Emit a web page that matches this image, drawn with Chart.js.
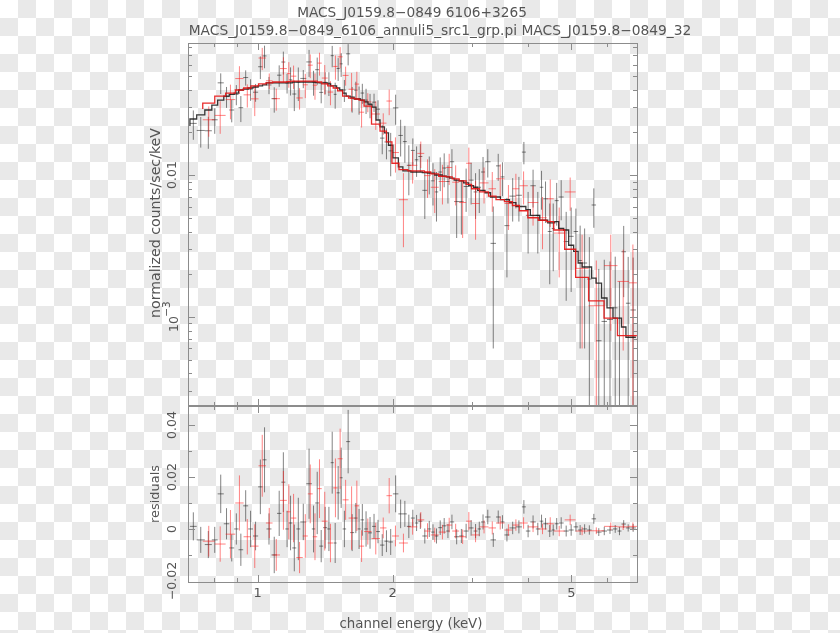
<!DOCTYPE html>
<html>
<head>
<meta charset="utf-8">
<title>MACS_J0159.8-0849 spectrum</title>
<script src="https://cdn.jsdelivr.net/npm/chart.js@4.4.1/dist/chart.umd.min.js"></script>
<style>
  html, body { margin: 0; padding: 0; background: #fff; }
  body { width: 840px; height: 633px; overflow: hidden; }
  canvas { display: block; }
</style>
</head>
<body>
<canvas id="spec" width="840" height="633"></canvas>
<script>
'use strict';

// plot texts
var plotTitle = 'MACS_J0159.8\u22120849 6106+3265';
var plotSubtitle = 'MACS_J0159.8\u22120849_6106_annuli5_src1_grp.pi MACS_J0159.8\u22120849_32';
var xTitle = 'channel energy (keV)';
var yTitleTop = 'normalized counts/sec/keV';
var yTitleBottom = 'residuals';

// axis ranges and tick labels
var energyRange = [0.707, 7.0];
var fluxRange = [2.36e-4, 0.0851];
var residRange = [-0.0204, 0.0473];
var energyMajor = [1, 2, 5];
var energyMinor = [0.8, 0.9, 3, 4, 6, 7];
var fluxMajor = [0.01, 0.001];
var residMajor = [-0.02, 0, 0.02, 0.04];
var residMinor = [-0.01, 0.01, 0.03];

// first data group (black): bin edges in keV, model per bin, residual per bin, 1 sigma error
var blackEdges = [0.707, 0.732, 0.763, 0.791, 0.815, 0.841, 0.865, 0.887, 0.907, 0.929,
  0.953, 0.977, 1.003, 1.026, 1.047, 1.074, 1.105, 1.130, 1.153, 1.174,
  1.195, 1.220, 1.245, 1.284, 1.321, 1.344, 1.372, 1.400, 1.429, 1.455,
  1.478, 1.500, 1.524, 1.547, 1.575, 1.608, 1.641, 1.670, 1.696, 1.727,
  1.762, 1.799, 1.836, 1.874, 1.917, 1.957, 2.002, 2.059, 2.107, 2.150,
  2.195, 2.240, 2.281, 2.328, 2.388, 2.437, 2.481, 2.526, 2.578, 2.631,
  2.679, 2.741, 2.812, 2.877, 2.952, 3.028, 3.090, 3.146, 3.211, 3.303,
  3.397, 3.475, 3.547, 3.639, 3.762, 3.879, 3.959, 4.051, 4.166, 4.252,
  4.329, 4.429, 4.521, 4.590, 4.685, 4.806, 4.931, 5.058, 5.176, 5.283,
  5.420, 5.546, 5.674, 5.836, 6.002, 6.189, 6.333, 6.464, 6.614, 6.768, 6.960];
var blackModel = [0.0221, 0.0248, 0.0265, 0.0287, 0.0311, 0.0337, 0.0360, 0.0370, 0.0378, 0.0397,
  0.0403, 0.0410, 0.0417, 0.0424, 0.0431, 0.0445, 0.0445, 0.0445, 0.0445, 0.0445,
  0.0445, 0.0452, 0.0452, 0.0452, 0.0452, 0.0452, 0.0448, 0.0445, 0.0445, 0.0438,
  0.0424, 0.0424, 0.0410, 0.0397, 0.0378, 0.0360, 0.0354, 0.0343, 0.0343, 0.0337,
  0.0327, 0.0316, 0.0301, 0.0244, 0.0218, 0.0198, 0.0162, 0.0132, 0.0114, 0.0107,
  0.0107, 0.0105, 0.0105, 0.0105, 0.0104, 0.0103, 0.0103, 0.0100, 0.0100, 0.0098,
  0.0097, 0.0095, 0.0092, 0.0091, 0.0088, 0.0084, 0.0082, 0.0078, 0.0078, 0.0075,
  0.0070, 0.0070, 0.0067, 0.0067, 0.0064, 0.0060, 0.0060, 0.0057, 0.0052, 0.0052,
  0.0048, 0.0048, 0.0046, 0.0046, 0.0047, 0.0042, 0.0041, 0.0032, 0.0029, 0.0024,
  0.00225, 0.00225, 0.00188, 0.00173, 0.00136, 0.00116, 0.00098, 0.00098, 0.00085, 0.00072];
var blackResid = [0.0010, -0.0042, -0.0060, -0.0042, 0.0135, 0.0020, -0.0073, 0.0000, -0.0080, 0.0089,
  0.0000, -0.0027, 0.0162, 0.0266, 0.0000, -0.0100, 0.0060, 0.0180, 0.0000, 0.0023,
  -0.0073, 0.0000, 0.0027, 0.0174, 0.0000, 0.0100, -0.0066, 0.0005, 0.0000, 0.0255,
  -0.0054, 0.0139, 0.0197, 0.0000, 0.0336, -0.0014, 0.0042, 0.0000, 0.0035, 0.0000,
  -0.0015, 0.0010, -0.0010, -0.0062, -0.0047, -0.0050, 0.0135, 0.0058, 0.0058, 0.0010,
  0.0042, 0.0023, 0.0030, -0.0027, 0.0000, -0.0012, -0.0027, 0.0005, 0.0012, -0.0008,
  0.0027, -0.0030, -0.0027, -0.0008, 0.0004, -0.0008, 0.0000, 0.0027, 0.0046, -0.0042,
  0.0046, 0.0027, -0.0023, 0.0004, 0.0008, 0.0085, -0.0008, 0.0027, 0.0000, 0.0030,
  0.0020, -0.0008, -0.0004, 0.0020, 0.0023, -0.0008, -0.0004, 0.0008, -0.0004, 0.0000,
  -0.0004, 0.0039, -0.0012, -0.0008, -0.0004, 0.0000, -0.0008, 0.0019, 0.0004, 0.0004];
var blackErr = [0.0054, 0.0050, 0.0052, 0.0050, 0.0074, 0.0060, 0.0052, 0.0060, 0.0062, 0.0060,
  0.0070, 0.0055, 0.0105, 0.0125, 0.0060, 0.0070, 0.0087, 0.0115, 0.0070, 0.0105,
  0.0090, 0.0120, 0.0070, 0.0135, 0.0090, 0.0120, 0.0062, 0.0080, 0.0085, 0.0119,
  0.0077, 0.0103, 0.0116, 0.0070, 0.0122, 0.0071, 0.0058, 0.0077, 0.0061, 0.0068,
  0.0061, 0.0048, 0.0045, 0.0042, 0.0042, 0.0050, 0.0071, 0.0055, 0.0050, 0.0045,
  0.0032, 0.0031, 0.0030, 0.0029, 0.0031, 0.0030, 0.0029, 0.0028, 0.0030, 0.0027,
  0.0028, 0.0029, 0.0027, 0.0028, 0.0030, 0.0027, 0.0028, 0.0029, 0.0028, 0.0027,
  0.0025, 0.0026, 0.0025, 0.0024, 0.0025, 0.0026, 0.0024, 0.0025, 0.0024, 0.0025,
  0.0022, 0.0023, 0.0021, 0.0022, 0.0022, 0.0021, 0.0022, 0.0018, 0.0019, 0.0018,
  0.0018, 0.0019, 0.0015, 0.0016, 0.0015, 0.0015, 0.0016, 0.0015, 0.0014, 0.0015];

// second data group (red)
var redEdges = [0.755, 0.803, 0.849, 0.892, 0.931, 0.967, 1.005, 1.044, 1.080, 1.122,
  1.162, 1.186, 1.220, 1.261, 1.294, 1.327, 1.358, 1.390, 1.433, 1.474,
  1.508, 1.547, 1.595, 1.645, 1.683, 1.727, 1.794, 1.874, 1.937, 1.992,
  2.065, 2.162, 2.269, 2.351, 2.431, 2.532, 2.631, 2.713, 2.812, 2.914,
  2.997, 3.122, 3.269, 3.397, 3.547, 3.695, 3.829, 3.999, 4.219, 4.407,
  4.567, 4.831, 5.110, 5.461, 5.911, 6.333, 6.716, 6.996];
var redModel = [0.0292, 0.0321, 0.0360, 0.0378, 0.0397, 0.0410, 0.0424, 0.0438, 0.0445, 0.0452,
  0.0452, 0.0455, 0.0459, 0.0459, 0.0459, 0.0459, 0.0459, 0.0452, 0.0438, 0.0424,
  0.0410, 0.0391, 0.0360, 0.0348, 0.0343, 0.0337, 0.0306, 0.0228, 0.0204, 0.0171,
  0.0121, 0.0109, 0.0107, 0.0107, 0.0105, 0.0102, 0.0098, 0.0097, 0.0094, 0.0091,
  0.0086, 0.0080, 0.0076, 0.0071, 0.0067, 0.0065, 0.0061, 0.0056, 0.0050, 0.0048,
  0.0047, 0.0041, 0.0030, 0.0019, 0.0013, 0.00098, 0.00074];
var redResid = [-0.0047, -0.0058, -0.0020, 0.0100, -0.0030, -0.0066, 0.0243, 0.0023, -0.0100, 0.0110,
  0.0066, 0.0042, -0.0110, -0.0027, 0.0135, -0.0030, 0.0155, 0.0030, -0.0054, 0.0158,
  0.0270, 0.0112, 0.0042, 0.0089, -0.0066, -0.0010, -0.0037, 0.0004, 0.0128, -0.0027,
  -0.0054, 0.0008, 0.0035, -0.0008, -0.0023, -0.0012, 0.0015, -0.0008, -0.0030, 0.0030,
  -0.0023, 0.0008, 0.0004, 0.0023, -0.0004, 0.0015, 0.0023, 0.0008, 0.0000, 0.0020,
  -0.0008, 0.0035, -0.0008, -0.0007, 0.0010, 0.0008, 0.0010];
var redErr = [0.0059, 0.0068, 0.0093, 0.0106, 0.0068, 0.0084, 0.0119, 0.0058, 0.0061, 0.0113,
  0.0106, 0.0093, 0.0060, 0.0084, 0.0113, 0.0090, 0.0113, 0.0113, 0.0074, 0.0113,
  0.0116, 0.0077, 0.0122, 0.0097, 0.0061, 0.0050, 0.0061, 0.0040, 0.0068, 0.0040,
  0.0036, 0.0030, 0.0030, 0.0030, 0.0028, 0.0028, 0.0028, 0.0028, 0.0028, 0.0035,
  0.0028, 0.0025, 0.0025, 0.0025, 0.0022, 0.0022, 0.0022, 0.0020, 0.0020, 0.0025,
  0.0020, 0.0020, 0.0016, 0.0013, 0.0015, 0.0012, 0.0015];

var inkColor = '#555555';
var frameColor = '#8c8c8c';
var fontName = '"DejaVu Sans", "Liberation Sans", sans-serif';

function clamp(v, range){
  return Math.min(Math.max(v, range[0]), range[1]);
}

// crosses: horizontal bar over the bin, vertical bar for the error
// a point with y null breaks the line so every bar is its own segment
function crossPoints(edges, values, errs, range){
  var pts = [];
  for(var i = 0; i < values.length; i++){
    var lo = edges[i];
    var hi = edges[i + 1];
    var mid = Math.sqrt(lo * hi);
    var v = values[i];
    if(v > range[0] && v < range[1]){
      pts.push({x: lo, y: v}, {x: hi, y: v}, {x: mid, y: null});
    }
    var y1 = clamp(v - errs[i], range);
    var y2 = clamp(v + errs[i], range);
    if(y2 > y1){
      pts.push({x: mid, y: y1}, {x: mid, y: y2}, {x: mid, y: null});
    }
  }
  return pts;
}

function dataValues(model, resid){
  var out = [];
  for(var i = 0; i < model.length; i++){
    out.push(model[i] + resid[i]);
  }
  return out;
}

// model drawn as a step over the same bins
function stepPoints(edges, model){
  var pts = [];
  for(var i = 0; i < model.length; i++){
    pts.push({x: edges[i], y: clamp(model[i], fluxRange)});
  }
  pts.push({x: edges[edges.length - 1], y: clamp(model[model.length - 1], fluxRange)});
  return pts;
}

function lineSet(points, color, width, axis, order, stepped){
  return {
    data: points,
    yAxisID: axis,
    showLine: true,
    spanGaps: false,
    stepped: stepped || false,
    borderColor: color,
    borderWidth: width,
    pointRadius: 0,
    pointHoverRadius: 0,
    order: order
  };
}

function fitText(ctx, text, cx, cy, width, vertical){
  ctx.save();
  ctx.font = '20px ' + fontName;
  var size = 20 * width / ctx.measureText(text).width;
  ctx.font = size.toFixed(2) + 'px ' + fontName;
  ctx.translate(cx, cy);
  if(vertical){
    ctx.rotate(-Math.PI / 2);
  }
  ctx.textAlign = 'center';
  ctx.textBaseline = 'middle';
  ctx.fillStyle = inkColor;
  ctx.fillText(text, 0, 0);
  ctx.restore();
}

function plainText(ctx, text, cx, cy, size, vertical){
  ctx.save();
  ctx.font = size + 'px ' + fontName;
  ctx.translate(cx, cy);
  if(vertical){
    ctx.rotate(-Math.PI / 2);
  }
  ctx.textAlign = 'center';
  ctx.textBaseline = 'middle';
  ctx.fillStyle = inkColor;
  ctx.fillText(text, 0, 0);
  ctx.restore();
}

function fluxMinorTicks(){
  var ticks = [];
  for(var p = -4; p <= -1; p++){
    for(var k = 2; k <= 9; k++){
      var v = k * Math.pow(10, p);
      if(v > fluxRange[0] && v < fluxRange[1]){
        ticks.push(v);
      }
    }
  }
  return ticks;
}

// the picture was saved with a transparent background, shown as a checkerboard
var checkerPlugin = {
  id: 'checker',
  beforeDraw: function(chart){
    var c = chart.ctx;
    c.save();
    c.fillStyle = '#ffffff';
    c.fillRect(0, 0, chart.width, chart.height);
    c.fillStyle = '#e9e9e9';
    for(var gy = 0; gy * 18 < chart.height; gy++){
      for(var gx = 0; gx * 18 < chart.width; gx++){
        if((gx + gy) % 2 === 1){
          c.fillRect(gx * 18, gy * 18, 18, 18);
        }
      }
    }
    c.restore();
  }
};

// frame, inward ticks and all the labels, in the pgplot manner
var framePlugin = {
  id: 'pgframe',
  afterDraw: function(chart){
    var ctx = chart.ctx;
    var sx = chart.scales.x;
    var sy = chart.scales.y;
    var sr = chart.scales.y2;
    var left = sx.left;
    var right = sx.right;
    var panels = [sy, sr];

    ctx.save();
    ctx.strokeStyle = frameColor;
    ctx.lineWidth = 1;

    panels.forEach(function(s){
      ctx.strokeRect(left + 0.5, s.top + 0.5, right - left, s.bottom - s.top);
      // energy ticks on top and bottom edge of each panel
      [[energyMajor, 7], [energyMinor, 4]].forEach(function(set){
        set[0].forEach(function(e){
          var px = Math.round(sx.getPixelForValue(e)) + 0.5;
          if(px < left + 1 || px > right - 1){ return; }
          ctx.beginPath();
          ctx.moveTo(px, s.top);
          ctx.lineTo(px, s.top + set[1]);
          ctx.moveTo(px, s.bottom);
          ctx.lineTo(px, s.bottom - set[1]);
          ctx.stroke();
        });
      });
    });

    function yTicks(scale, values, len){
      values.forEach(function(v){
        var py = Math.round(scale.getPixelForValue(v)) + 0.5;
        if(py < scale.top + 1 || py > scale.bottom - 1){ return; }
        ctx.beginPath();
        ctx.moveTo(left, py);
        ctx.lineTo(left + len, py);
        ctx.moveTo(right, py);
        ctx.lineTo(right - len, py);
        ctx.stroke();
      });
    }
    yTicks(sy, fluxMajor, 7);
    yTicks(sy, fluxMinorTicks(), 4);
    yTicks(sr, residMajor, 7);
    yTicks(sr, residMinor, 4);

    // the shared edge between the panels is drawn heavier
    ctx.lineWidth = 2;
    ctx.beginPath();
    ctx.moveTo(left, sy.bottom);
    ctx.lineTo(right + 1, sy.bottom);
    ctx.stroke();
    ctx.restore();

    // titles
    fitText(ctx, plotTitle, 412, 13, 230, false);
    fitText(ctx, plotSubtitle, 440, 31, 503, false);

    // energy tick labels and title
    energyMajor.forEach(function(e){
      plainText(ctx, String(e), sx.getPixelForValue(e), sr.bottom + 12, 13, false);
    });
    fitText(ctx, xTitle, 411, 625, 143, false);

    // flux tick labels, rotated
    var lx = left - 15;
    plainText(ctx, '0.01', lx, sy.getPixelForValue(0.01), 12.5, true);
    var p3 = sy.getPixelForValue(0.001);
    plainText(ctx, '10', lx + 2, p3 + 7, 12.5, true);
    plainText(ctx, '\u22123', lx - 6, p3 - 8, 10.5, true);
    fitText(ctx, yTitleTop, left - 32, 223, 190, true);

    // residual tick labels
    residMajor.forEach(function(v){
      var txt = v === 0 ? '0' : (v < 0 ? '\u2212' + Math.abs(v).toFixed(2) : v.toFixed(2));
      plainText(ctx, txt, lx, sr.getPixelForValue(v), 12.5, true);
    });
    fitText(ctx, yTitleBottom, left - 32, 494, 58, true);
  }
};

var blackData = dataValues(blackModel, blackResid);
var redData = dataValues(redModel, redResid);

var blackInk = 'rgba(30, 30, 30, 0.55)';
var redInk = 'rgba(255, 30, 30, 0.55)';

var ctx = document.getElementById('spec').getContext('2d');
var chart = new Chart(ctx, {
  type: 'scatter',
  data: {
    datasets: [
      lineSet(stepPoints(redEdges, redModel), 'rgba(230, 20, 20, 0.9)', 1.3, 'y', 0, 'after'),
      lineSet(stepPoints(blackEdges, blackModel), 'rgba(20, 20, 20, 0.85)', 1.3, 'y', 1, 'after'),
      lineSet(crossPoints(redEdges, redData, redErr, fluxRange), redInk, 1, 'y', 2),
      lineSet(crossPoints(blackEdges, blackData, blackErr, fluxRange), blackInk, 1, 'y', 3),
      lineSet(crossPoints(redEdges, redResid, redErr, residRange), redInk, 1, 'y2', 2),
      lineSet(crossPoints(blackEdges, blackResid, blackErr, residRange), blackInk, 1, 'y2', 3)
    ]
  },
  options: {
    responsive: false,
    animation: false,
    devicePixelRatio: 1,
    layout: {padding: {left: 188, right: 203, top: 43, bottom: 51}},
    plugins: {legend: {display: false}, tooltip: {enabled: false}},
    events: [],
    scales: {
      x: {type: 'logarithmic', min: energyRange[0], max: energyRange[1], display: false},
      // in a stack the later scale is placed on top, so the residuals come first
      y2: {type: 'linear', min: residRange[0], max: residRange[1], display: false,
        position: 'left', stack: 'panels', stackWeight: 176},
      y: {type: 'logarithmic', min: fluxRange[0], max: fluxRange[1], display: false,
        position: 'left', stack: 'panels', stackWeight: 363}
    }
  },
  plugins: [checkerPlugin, framePlugin]
});
</script>
</body>
</html>
